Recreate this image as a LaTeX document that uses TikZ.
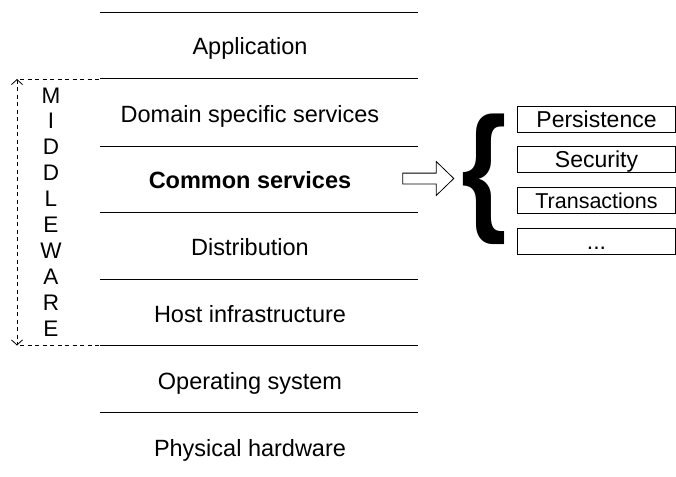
\documentclass[tikz,border=0pt]{standalone}
\usepackage{fontspec}
\setmainfont{Liberation Sans}
\usetikzlibrary{arrows.meta,shapes.arrows,positioning}

\begin{document}
\begin{tikzpicture}[x=1pt,y=-1pt]

\tikzset{layer/.style={font=\fontsize{23.5}{28}\selectfont,inner sep=0pt,text height=17pt,text depth=0pt},
letter/.style={font=\fontsize{22.5}{26}\selectfont,inner sep=0pt,text height=16pt,text depth=0pt},
separator/.style={draw=black,line width=1pt},
mwline/.style={draw=black,line width=0.8pt,dash pattern=on 4pt off 3.5pt},
mwspan/.style={mwline,{Straight Barb[length=5pt,width=11pt,line width=0.8pt]}-{Straight Barb[length=5pt,width=11pt,line width=0.8pt]}},
service/.style={draw=black,line width=0.8pt,minimum width=158pt,minimum height=26pt,inner sep=0pt,text height=16pt,text depth=0pt,font=\fontsize{23}{27}\selectfont},
bigarrow/.style={draw=black,line width=0.8pt,shape=single arrow,minimum height=51pt,inner xsep=0pt,inner ysep=5pt,single arrow head extend=11.5pt,single arrow tip angle=88}}

\useasboundingbox (0,0) rectangle (676,476);

% Layer separators
\foreach \y in {12.5,79,146,212.5,279,345.5,412}
  \draw[separator] (100,\y) -- (418,\y);

% Layers
\node (app) [layer] at (250,46.5) {Application};
\node (dom) [layer] at (250,113.5) {Domain specific services};
\node (com) [layer] at (250,180) {\bfseries Common services};
\node (dist) [layer] at (250,247) {Distribution};
\node (host) [layer] at (250,313.5) {Host infrastructure};
\node (os) [layer] at (250,380.5) {Operating system};
\node (hw) [layer] at (250,447.5) {Physical hardware};

% Middleware span
\coordinate (mwtop) at (17,79);
\coordinate (mwbot) at (17,345.5);
\draw[mwline] (20,79) -- (100,79);
\draw[mwline] (20,345.5) -- (100,345.5);
\draw[mwspan] (mwtop) -- (mwbot);
\foreach \l [count=\i from 0] in {M,I,D,D,L,E,W,A,R,E}
  \node (mw\i) [letter] at (51,95+25.9*\i) {\l};

% Common services breakdown
\node (arr) [bigarrow] at (425.5,178.5) {};
\node (brace) at (484,179) {\resizebox{45.5pt}{101.5pt}{\bfseries\{}};
\node (pers) [service] at (596.5,119) {Persistence};
\node (sec) [service,below=14pt of pers] {Security};
\node (trans) [service,below=14pt of sec,font=\fontsize{21.5}{25}\selectfont] {Transactions};
\node (more) [service,below=14pt of trans] {...};

\end{tikzpicture}
\end{document}
